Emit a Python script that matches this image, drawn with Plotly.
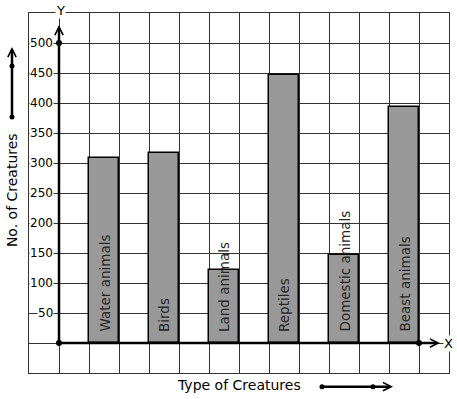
import plotly.graph_objects as go

categories = ["Water animals", "Birds", "Land animals", "Reptiles", "Domestic animals", "Beast animals"]
values = [308, 316, 122, 446, 147, 393]
y_ticks = [50, 100, 150, 200, 250, 300, 350, 400, 450, 500]
x_title = "Type of Creatures"
y_title = "No. of Creatures"

# bars occupy every other grid cell, starting one cell right of the Y axis
x_pos = [1.5 + 2 * i for i in range(len(categories))]

FONT = "DejaVu Sans"
fig = go.Figure()

fig.add_trace(go.Bar(
    x=x_pos, y=values, width=1,
    marker=dict(color="#999999", line=dict(color="#000000", width=1.5)),
    hoverinfo="skip", showlegend=False,
))

# dots on the axes
fig.add_trace(go.Scatter(
    x=[0, 0, 12], y=[0, 500, 0], mode="markers",
    marker=dict(color="black", size=6), cliponaxis=False,
    hoverinfo="skip", showlegend=False,
))

ann = []
# bar labels, rotated, inside the bars
for xp, c in zip(x_pos, categories):
    ann.append(dict(x=xp, y=0, xref="x", yref="y", text=c, showarrow=False,
                    textangle=-90, yanchor="bottom", xanchor="center", yshift=9,
                    font=dict(family=FONT, size=13.5, color="#262626")))
# y tick labels
for t in y_ticks:
    ann.append(dict(x=0, y=t, xref="x", yref="y", text=str(t), showarrow=False,
                    xanchor="right", yanchor="middle", xshift=-5, bgcolor="white",
                    borderpad=0, font=dict(family=FONT, size=12, color="black")))
# axes with arrow heads
ann.append(dict(x=0, y=530, ax=0, ay=0, xref="x", yref="y", axref="x", ayref="y",
                text="", showarrow=True, arrowhead=5, arrowwidth=2.5, arrowsize=0.65,
                arrowcolor="black"))
ann.append(dict(x=12.7, y=0, ax=0, ay=0, xref="x", yref="y", axref="x", ayref="y",
                text="", showarrow=True, arrowhead=5, arrowwidth=2.5, arrowsize=0.65,
                arrowcolor="black"))
ann.append(dict(x=0, y=1.0075, xref="x", yref="paper", text="Y", showarrow=False,
                xanchor="center", yanchor="middle",
                xshift=1, bgcolor="white", borderpad=0,
                font=dict(family=FONT, size=13, color="black")))
ann.append(dict(x=13, y=0, xref="x", yref="y", text="X", showarrow=False,
                xanchor="center", yanchor="middle",
                xshift=-1, bgcolor="white", borderpad=0,
                font=dict(family=FONT, size=13, color="black")))
# axis titles
ann.append(dict(x=-0.0405, y=0.508, xref="paper", yref="paper", text=y_title,
                showarrow=False, textangle=-90, xanchor="center", yanchor="middle",
                font=dict(family=FONT, size=14, color="black")))
ann.append(dict(x=0.5, y=-0.0333, xref="paper", yref="paper", text=x_title,
                showarrow=False, xanchor="center", yanchor="middle",
                font=dict(family=FONT, size=14, color="black")))
# title arrows
ann.append(dict(x=-0.0405, y=0.9056, xref="paper", yref="paper", ax=0, ay=70,
                text="", showarrow=True, arrowhead=5, arrowwidth=2.5, arrowsize=0.65,
                arrowcolor="black"))
ann.append(dict(x=0.8667, y=-0.038, xref="paper", yref="paper", ax=-71, ay=0,
                text="", showarrow=True, arrowhead=5, arrowwidth=2.5, arrowsize=0.65,
                arrowcolor="black"))

shapes = []
for (px, py) in [(-0.0405, 0.7111), (-0.0405, 0.8528), (0.6976, -0.038), (0.819, -0.038)]:
    shapes.append(dict(type="circle", xref="paper", yref="paper", xsizemode="pixel",
                       ysizemode="pixel", xanchor=px, yanchor=py, x0=-2.5, x1=2.5,
                       y0=-2.5, y1=2.5, fillcolor="black", line=dict(width=0)))

fig.update_layout(
    width=457, height=399,
    margin=dict(l=29, r=8, t=13, b=26),
    plot_bgcolor="white", paper_bgcolor="white",
    annotations=ann, shapes=shapes, bargap=0,
    xaxis=dict(range=[-1, 13], dtick=1, tick0=0, showgrid=True, gridcolor="#333333",
               gridwidth=1, showticklabels=False, ticks="", zeroline=False,
               showline=True, mirror=True, linecolor="#333333", linewidth=1, fixedrange=True),
    yaxis=dict(range=[-50, 550], dtick=50, tick0=0, showgrid=True, gridcolor="#333333",
               gridwidth=1, showticklabels=False, ticks="", zeroline=False,
               showline=True, mirror=True, linecolor="#333333", linewidth=1, fixedrange=True),
)

# remove the default page margin so the figure fills the window exactly
fig.write_html("out.html", config={"displayModeBar": False},
               post_script="document.body.style.margin='0';document.body.style.padding='0';")
